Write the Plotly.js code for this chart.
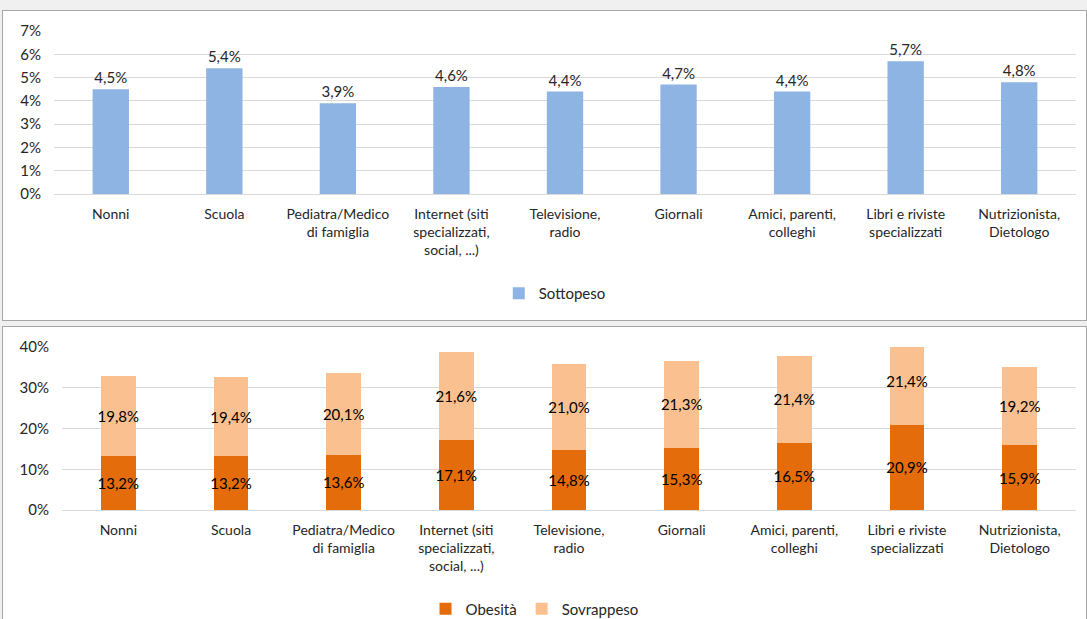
<!DOCTYPE html>
<html>
<head>
<meta charset="utf-8">
<script src="https://cdn.plot.ly/plotly-3.0.1.min.js"></script>
<style>
  html, body { margin: 0; padding: 0; background: #f0f0f0; width: 1087px; height: 619px; overflow: hidden; }
  .panel { position: absolute; left: 2px; width: 1085px; background: #fff; border: 1px solid #a6a6a6; box-sizing: border-box; }
  #top { top: 10px; height: 311px; }
  #bottom { top: 326px; height: 312px; }
</style>
</head>
<body>
<div id="top" class="panel"></div>
<div id="bottom" class="panel"></div>
<script>
const categories = [
  "Nonni",
  "Scuola",
  "Pediatra/Medico<br>di famiglia",
  "Internet (siti<br>specializzati,<br>social, ...)",
  "Televisione,<br>radio",
  "Giornali",
  "Amici, parenti,<br>colleghi",
  "Libri e riviste<br>specializzati",
  "Nutrizionista,<br>Dietologo"
];
const sottopeso = [4.5, 5.4, 3.9, 4.6, 4.4, 4.7, 4.4, 5.7, 4.8];
const obesita = [13.2, 13.2, 13.6, 17.1, 14.8, 15.3, 16.5, 20.9, 15.9];
const sovrappeso = [19.8, 19.4, 20.1, 21.6, 21.0, 21.3, 21.4, 21.4, 19.2];
const topTicks = [0, 1, 2, 3, 4, 5, 6, 7];
const bottomTicks = [0, 10, 20, 30, 40];

const FONT = "Lato, 'Open Sans', sans-serif";
const cfg = { displayModeBar: false, staticPlot: true };

function axisY(range, ticks) {
  return {
    range: range, tickvals: ticks, ticktext: ticks.map(v => v + "%"),
    showgrid: true, gridcolor: "#d9d9d9", gridwidth: 1,
    zeroline: true, zerolinecolor: "#d9d9d9", zerolinewidth: 1,
    showline: false, ticks: "", ticklabelstandoff: 12,
    tickfont: { family: FONT, size: 15, color: "#262626" }, fixedrange: true
  };
}
function axisX() {
  return {
    type: "category", showgrid: false, zeroline: false, showline: false, ticks: "",
    ticklabelstandoff: 10,
    tickangle: 0, tickfont: { family: FONT, size: 14, color: "#262626" }, fixedrange: true
  };
}

Plotly.newPlot("top", [{
  type: "bar", name: "Sottopeso", x: categories, y: sottopeso,
  marker: { color: "#8eb4e3" },
  texttemplate: "%{y:.1f}%", textposition: "outside", cliponaxis: false,
  textfont: { family: FONT, size: 15, color: "#262626" }, hoverinfo: "skip"
}], {
  width: 1083, height: 309, separators: ",.",
  margin: { l: 51, r: 10, t: 20, b: 126 },
  paper_bgcolor: "#ffffff", plot_bgcolor: "#ffffff",
  bargap: 0.68, showlegend: true,
  legend: { orientation: "h", x: 0.49, xanchor: "center", y: -0.61, yanchor: "middle",
    font: { family: FONT, size: 15, color: "#262626" } },
  xaxis: axisX(), yaxis: axisY([0, 7], topTicks)
}, cfg);

Plotly.newPlot("bottom", [{
  type: "bar", name: "Obesità", x: categories, y: obesita,
  marker: { color: "#e46c0a" },
  texttemplate: "%{y:.1f}%", textposition: "inside", insidetextanchor: "middle",
  constraintext: "none", textangle: 0,
  textfont: { family: FONT, size: 15, color: "#000000" }, hoverinfo: "skip"
}, {
  type: "bar", name: "Sovrappeso", x: categories, y: sovrappeso,
  marker: { color: "#fac090" },
  texttemplate: "%{y:.1f}%", textposition: "inside", insidetextanchor: "middle",
  constraintext: "none", textangle: 0,
  textfont: { family: FONT, size: 15, color: "#000000" }, hoverinfo: "skip"
}], {
  width: 1083, height: 310, separators: ",.", barmode: "stack",
  margin: { l: 59, r: 10, t: 20, b: 127 },
  paper_bgcolor: "#ffffff", plot_bgcolor: "#ffffff",
  bargap: 0.69, showlegend: true,
  legend: { orientation: "h", x: 0.466, xanchor: "center", y: -0.607, yanchor: "middle",
    traceorder: "normal", font: { family: FONT, size: 15, color: "#262626" } },
  xaxis: axisX(), yaxis: axisY([0, 40], bottomTicks)
}, cfg);
</script>
</body>
</html>
